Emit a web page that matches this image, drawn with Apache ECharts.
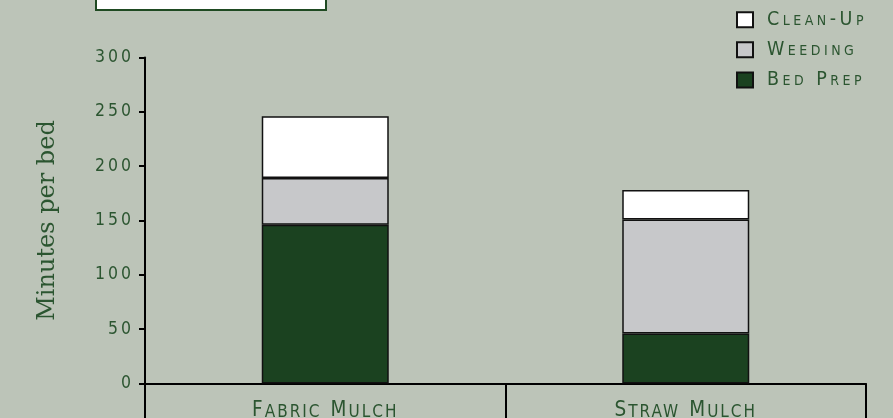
<!DOCTYPE html>
<html><head><meta charset="utf-8">
<script src="https://cdn.jsdelivr.net/npm/echarts@6/dist/echarts.min.js"></script>
<style>html,body{margin:0;padding:0;background:#bcc4b8;}#c{width:893px;height:418px;}</style>
</head><body><div id="c"></div>
<script>
const categories = ['Fabric Mulch', 'Straw Mulch'];
const bedPrep = [146, 46];
const weeding = [43, 105];
const cleanUp = [57, 27];
const yTicks = [0, 50, 100, 150, 200, 250, 300];

// letter-spacing support: a fake family "LSPn" in the font list sets n px of tracking
(function () {
  const P = CanvasRenderingContext2D.prototype;
  const d = Object.getOwnPropertyDescriptor(P, 'font');
  if (!d || !('letterSpacing' in P)) return;
  Object.defineProperty(P, 'font', {
    configurable: true,
    get() { return d.get.call(this); },
    set(v) {
      d.set.call(this, v);
      const m = /LSP(\d+(?:\.\d+)?)/.exec(v || '');
      this.letterSpacing = m ? m[1] + 'px' : '0px';
    }
  });
})();

const green = '#2b5530';
const chart = echarts.init(document.getElementById('c'));
const capFont = (ls) => "'DejaVu Sans Condensed', 'LSP" + ls + "'";
const barStyle = (c) => ({ color: c, borderColor: '#111', borderWidth: 1.5 });
const smallCaps = (s) => s.split(' ').map(w => '{a|' + w[0] + '}{b|' + w.slice(1) + '}').join('{b| }');
chart.setOption({
  backgroundColor: '#bcc4b8',
  animation: false,
  graphic: [{ type: 'rect', shape: { x: 96, y: -10, width: 230, height: 20 },
    style: { fill: '#fff', stroke: '#1f4a22', lineWidth: 2 } }],
  legend: {
    orient: 'vertical', left: 731, top: 3, itemWidth: 16, itemHeight: 15, itemGap: 6.6,
    icon: 'rect',
    data: ['Clean-Up', 'Weeding', 'Bed Prep'],
    textStyle: { color: green, fontFamily: capFont(3.5), fontSize: 19.5, fontStyle: 'small-caps',
      padding: [0, 0, 0, 9] }
  },
  grid: { left: 145, right: 27, top: 57.5, bottom: 34.5, outerBoundsMode: 'none', containLabel: false },
  xAxis: {
    type: 'category', data: categories, boundaryGap: true,
    axisLine: { lineStyle: { color: '#000', width: 2 } },
    axisTick: { show: true, length: 35, lineStyle: { color: '#000', width: 2 } },
    axisLabel: { color: green, margin: 17, formatter: smallCaps,
      rich: {
        a: { fontFamily: capFont(2), fontSize: 20.5, color: green, lineHeight: 20 },
        b: { fontFamily: capFont(2), fontSize: 24.9, fontStyle: 'small-caps', color: green, lineHeight: 20 }
      } }
  },
  yAxis: {
    type: 'value', min: 0, max: 300, interval: 50,
    name: 'Minutes per bed', nameLocation: 'middle', nameGap: 85, nameRotate: 90,
    nameTextStyle: { color: green, fontFamily: 'DejaVu Serif', fontSize: 24 },
    splitLine: { show: false },
    axisLine: { show: true, lineStyle: { color: '#000', width: 2 } },
    axisTick: { show: true, length: 6, lineStyle: { color: '#000', width: 2 } },
    axisLabel: { color: green, fontFamily: capFont(3), fontSize: 17.5, margin: 11,
      formatter: (v) => yTicks.includes(v) ? String(v) : '' }
  },
  series: [
    { name: 'Bed Prep', type: 'bar', stack: 't', data: bedPrep, barWidth: 127, itemStyle: barStyle('#1b4220') },
    { name: 'Weeding', type: 'bar', stack: 't', data: weeding, barWidth: 127, itemStyle: barStyle('#c7c8ca') },
    { name: 'Clean-Up', type: 'bar', stack: 't', data: cleanUp, barWidth: 127, itemStyle: barStyle('#ffffff') }
  ]
});
</script></body></html>
